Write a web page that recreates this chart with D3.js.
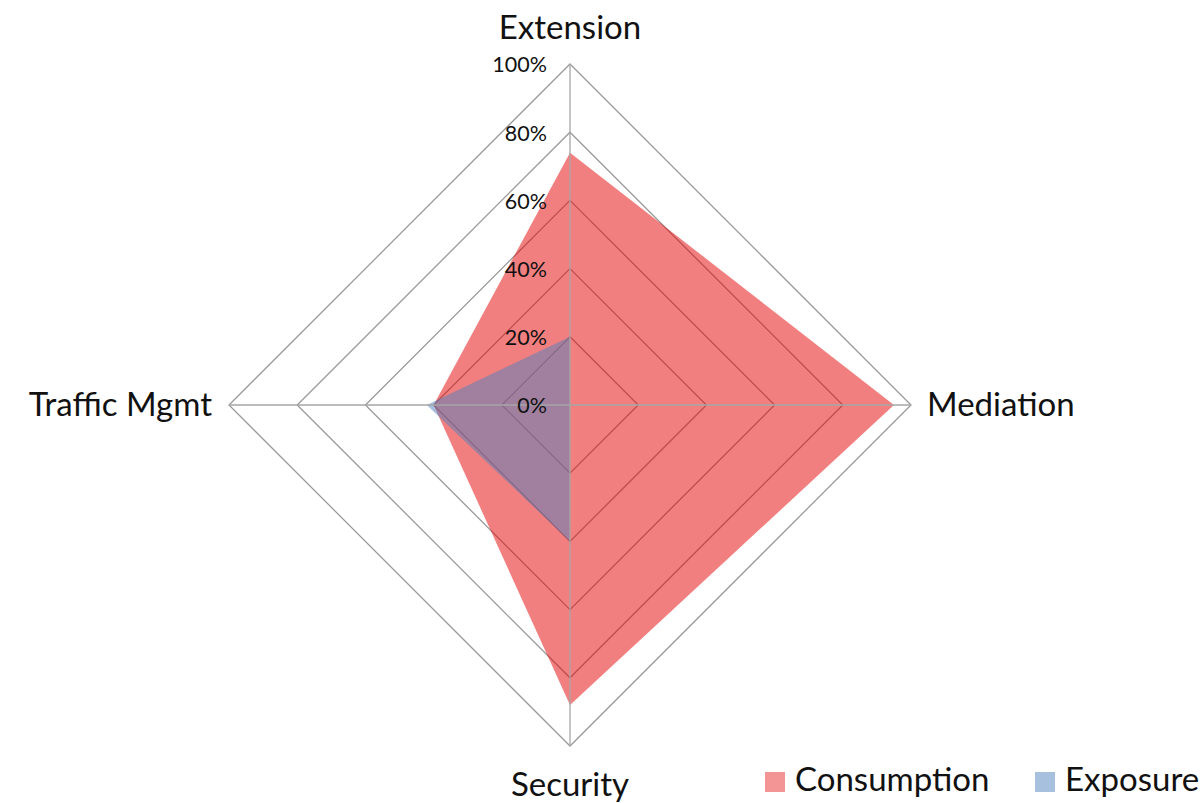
<!DOCTYPE html>
<html><head><meta charset="utf-8">
<script src="https://cdn.jsdelivr.net/npm/d3@7"></script>
<style>body{margin:0;background:#fff;} svg{display:block;}</style>
</head><body>
<svg id="chart" width="1200" height="803"></svg>
<script>
const categories = ["Extension", "Mediation", "Security", "Traffic Mgmt"];
const consumption = [0.74, 0.95, 0.88, 0.40];
const exposure = [0.20, 0.00, 0.40, 0.42];
const ticks = [0, 0.2, 0.4, 0.6, 0.8, 1.0];
const tickLabels = ["0%", "20%", "40%", "60%", "80%", "100%"];
const seriesNames = ["Consumption", "Exposure"];

const svg = d3.select("#chart");
const cx = 570, cy = 405, R = 341;
const font = "Lato, 'Open Sans', sans-serif";
const r = d3.scaleLinear().domain([0, 1]).range([0, R]);
const angle = d3.scalePoint().domain(categories).range([0, 2 * Math.PI * 3 / 4]);
const pt = (c, v) => { const a = angle(c); return [cx + r(v) * Math.sin(a), cy - r(v) * Math.cos(a)]; };

const g = svg.append("g");
// rings
ticks.filter(t => t > 0).forEach(t => {
  g.append("polygon")
    .attr("points", categories.map(c => pt(c, t).join(",")).join(" "))
    .attr("fill", "none").attr("stroke", "#9a9a9a").attr("stroke-width", 1.3);
});

// series
const radial = d3.line().curve(d3.curveLinearClosed);
g.append("path").attr("d", radial(categories.map((c, i) => pt(c, consumption[i]))))
  .attr("fill", "rgb(228,0,0)").attr("fill-opacity", 0.5);
g.append("path").attr("d", radial(categories.map((c, i) => pt(c, exposure[i]))))
  .attr("fill", "#4F81BD").attr("fill-opacity", 0.5);

// spokes
categories.forEach(c => {
  const [x, y] = pt(c, 1);
  g.append("line").attr("x1", cx).attr("y1", cy).attr("x2", x).attr("y2", y)
    .attr("stroke", "#a6a6a6").attr("stroke-width", 1.3);
});

// tick labels
ticks.forEach((t, i) => {
  g.append("text").attr("x", cx - 23).attr("y", cy - r(t) + 3)
    .attr("text-anchor", "end").attr("dominant-baseline", "middle")
    .attr("font-family", font).attr("font-size", 21.5).attr("fill", "#111")
    .text(tickLabels[i]);
});

// category labels
const labelPos = {
  "Extension": {x: cx, y: 31, anchor: "middle"},
  "Mediation": {x: 927, y: 408, anchor: "start"},
  "Security": {x: cx, y: 788, anchor: "middle"},
  "Traffic Mgmt": {x: 212, y: 408, anchor: "end"}
};
categories.forEach(c => {
  const p = labelPos[c];
  g.append("text").attr("x", p.x).attr("y", p.y).attr("text-anchor", p.anchor)
    .attr("dominant-baseline", "middle").attr("font-family", font)
    .attr("font-size", 33).attr("fill", "#111").text(c);
});

// legend
const legendColors = ["rgb(244,149,149)", "rgb(167,192,222)"];
const legendX = [765, 1035];
seriesNames.forEach((s, i) => {
  svg.append("rect").attr("x", legendX[i]).attr("y", 772).attr("width", 20).attr("height", 20)
    .attr("fill", legendColors[i]);
  svg.append("text").attr("x", legendX[i] + 30).attr("y", 783)
    .attr("dominant-baseline", "middle").attr("font-family", font)
    .attr("font-size", 33).attr("fill", "#111").text(s);
});
</script>
</body></html>
